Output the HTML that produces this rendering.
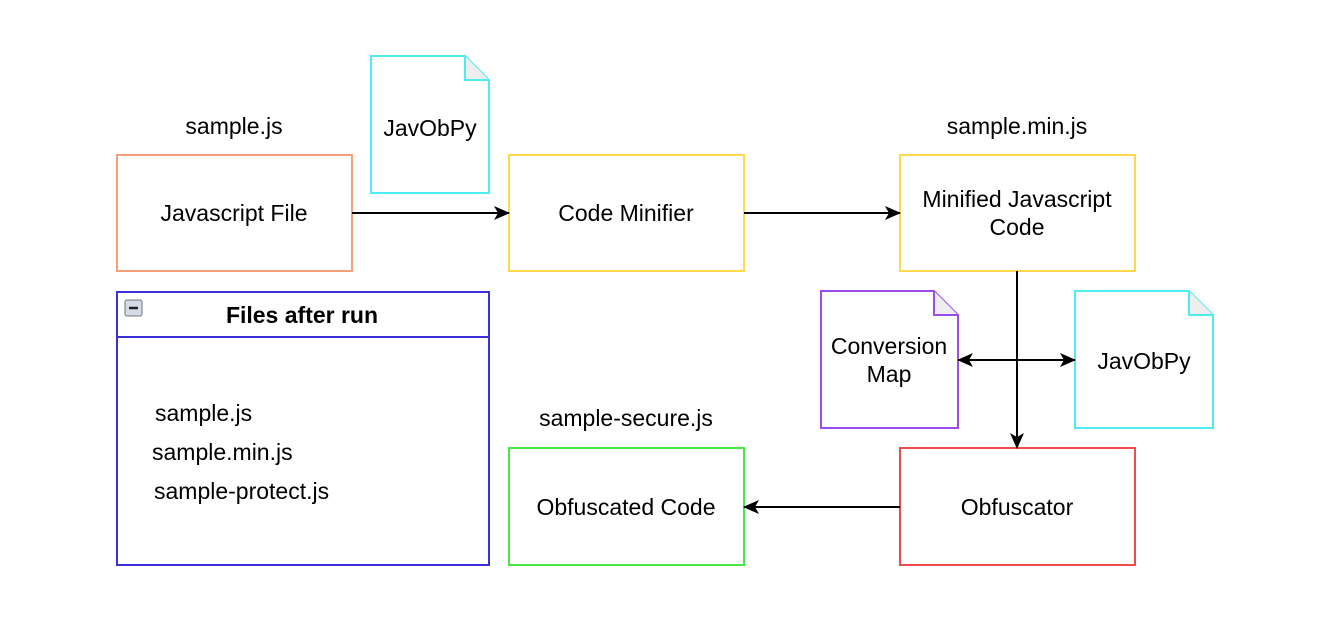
<!DOCTYPE html>
<html><head><style>body{margin:0;background:#fff}svg{display:block}text{font-family:"Liberation Sans",Arial,sans-serif;font-size:23px;fill:#000}</style></head>
<body>
<svg width="1324" height="637" viewBox="0 0 1324 637">
<defs><marker id="a" markerWidth="16" markerHeight="16" refX="15" refY="8" orient="auto-start-reverse" markerUnits="userSpaceOnUse"><path d="M0,1 L16,8 L0,15 L4,8 z" fill="#000"/></marker></defs>
<g stroke-width="2" fill="#fff">
<rect x="117" y="155" width="235" height="116" stroke="#F4A07A"/>
<rect x="509" y="155" width="235" height="116" stroke="#FFD84D"/>
<rect x="900" y="155" width="235" height="116" stroke="#FFD84D"/>
<rect x="900" y="448" width="235" height="117" stroke="#EE4B4B"/>
<rect x="509" y="448" width="235" height="117" stroke="#45E845"/>
<rect x="117" y="292" width="372" height="273" stroke="#3A2FD8"/>
<line x1="117" y1="337" x2="489" y2="337" stroke="#3A2FD8"/>
<path d="M371,56 H465 L489,80 V193 H371 Z" stroke="#4DEBF2"/>
<path d="M465,56 V80 H489" stroke="#4DEBF2" fill="#eee"/>
<path d="M821,291 H934 L958,315 V428 H821 Z" stroke="#9B4DEB"/>
<path d="M934,291 V315 H958" stroke="#9B4DEB" fill="#eee"/>
<path d="M1075,291 H1189 L1213,315 V428 H1075 Z" stroke="#4DEBF2"/>
<path d="M1189,291 V315 H1213" stroke="#4DEBF2" fill="#eee"/>
</g>
<rect x="125" y="300" width="17" height="16" rx="2" fill="#d5dce5" stroke="#6a7580"/>
<line x1="129" y1="308" x2="138" y2="308" stroke="#222" stroke-width="2.5"/>
<g stroke="#000" stroke-width="2" fill="none">
<line x1="352" y1="213" x2="509" y2="213" marker-end="url(#a)"/>
<line x1="744" y1="213" x2="900" y2="213" marker-end="url(#a)"/>
<line x1="1017" y1="271" x2="1017" y2="448" marker-end="url(#a)"/>
<line x1="958" y1="360" x2="1075" y2="360" marker-start="url(#a)" marker-end="url(#a)"/>
<line x1="900" y1="507" x2="744" y2="507" marker-end="url(#a)"/>
</g>
<g text-anchor="middle">
<text x="234" y="134">sample.js</text>
<text x="1017" y="134">sample.min.js</text>
<text x="626" y="426">sample-secure.js</text>
<text x="234" y="221">Javascript File</text>
<text x="626" y="221">Code Minifier</text>
<text x="1017" y="207">Minified Javascript</text>
<text x="1017" y="235">Code</text>
<text x="1017" y="515">Obfuscator</text>
<text x="626" y="515">Obfuscated Code</text>
<text x="430" y="136">JavObPy</text>
<text x="889" y="354">Conversion</text>
<text x="889" y="382">Map</text>
<text x="1144" y="369">JavObPy</text>
<text x="302" y="323" font-weight="bold">Files after run</text>
</g>
<text x="155" y="421">sample.js</text>
<text x="152" y="460">sample.min.js</text>
<text x="154" y="499">sample-protect.js</text>
</svg>
</body></html>
